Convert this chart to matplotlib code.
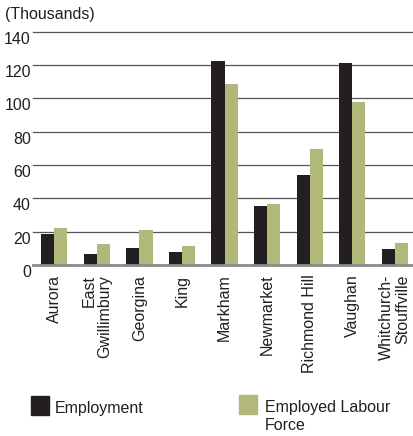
import matplotlib
matplotlib.use("Agg")
import matplotlib.pyplot as plt
import matplotlib.transforms as mtransforms
from matplotlib.patches import Rectangle
import numpy as np

plt.rcParams['font.family'] = ['Liberation Sans', 'DejaVu Sans']

municipalities = ["Aurora", "East\nGwillimbury", "Georgina", "King", "Markham",
                  "Newmarket", "Richmond Hill", "Vaughan", "Whitchurch-\nStouffville"]
employment = [18.6, 6.4, 10.0, 7.6, 122.4, 35.6, 53.8, 121.2, 9.4]
labour_force = [22.0, 12.4, 21.0, 11.2, 108.6, 36.8, 69.6, 97.6, 13.2]
y_ticks = [0, 20, 40, 60, 80, 100, 120, 140]

EMP_COLOR = "#231f20"
ELF_COLOR = "#b2b87a"
TEXT_COLOR = "#231f20"
FS = 11.5

W, H = 414, 436
fig = plt.figure(figsize=(W / 100, H / 100), dpi=100)
ax = fig.add_axes([33 / W, (H - 265) / H, (W - 33) / W, (265 - 31.7) / H])

x = np.arange(len(municipalities))
bw = 0.31
ax.bar(x - bw / 2, employment, width=bw, color=EMP_COLOR, zorder=3)
ax.bar(x + bw / 2, labour_force, width=bw, color=ELF_COLOR, zorder=3)

ax.set_xlim(-0.5, 8.45)
ax.set_ylim(0, 140)

for s in ax.spines.values():
    s.set_visible(False)

ax.set_yticks(y_ticks)
ax.set_yticklabels([str(v) for v in y_ticks], fontsize=FS, color=TEXT_COLOR)
shift = mtransforms.ScaledTranslation(0, -2 / 100, fig.dpi_scale_trans)
for lbl in ax.get_yticklabels():
    lbl.set_va("top")
    lbl.set_transform(lbl.get_transform() + shift)
ax.tick_params(axis="y", length=0, pad=1.5)

ax.set_xticks(x)
ax.set_xticklabels(municipalities, rotation=90, fontsize=FS, color=TEXT_COLOR,
                   va="top", ha="center", multialignment="right", linespacing=1.1)
ax.tick_params(axis="x", length=0, pad=7)

for v in y_ticks[1:]:
    ax.axhline(v, color="#555555", lw=0.9, zorder=1, clip_on=False)
ax.axhline(0, color="#8a8a8a", lw=2.0, zorder=4, clip_on=False)

fig.text(5 / W, 1 - 7 / H, "(Thousands)", fontsize=FS, va="top", ha="left",
         color=TEXT_COLOR)

# legend
def px_rect(x0, y0, w, h, color):
    fig.patches.append(Rectangle((x0 / W, 1 - (y0 + h) / H), w / W, h / H,
                                 transform=fig.transFigure, color=color))

px_rect(31, 396, 18, 19, EMP_COLOR)
fig.text(55 / W, 1 - 413 / H, "Employment", fontsize=FS, va="baseline",
         ha="left", color=TEXT_COLOR)
px_rect(239, 395, 18, 19, ELF_COLOR)
fig.text(265 / W, 1 - 412 / H, "Employed Labour", fontsize=FS, va="baseline",
         ha="left", color=TEXT_COLOR)
fig.text(265 / W, 1 - 430 / H, "Force", fontsize=FS, va="baseline",
         ha="left", color=TEXT_COLOR)

fig.savefig("out.png", dpi=100)
